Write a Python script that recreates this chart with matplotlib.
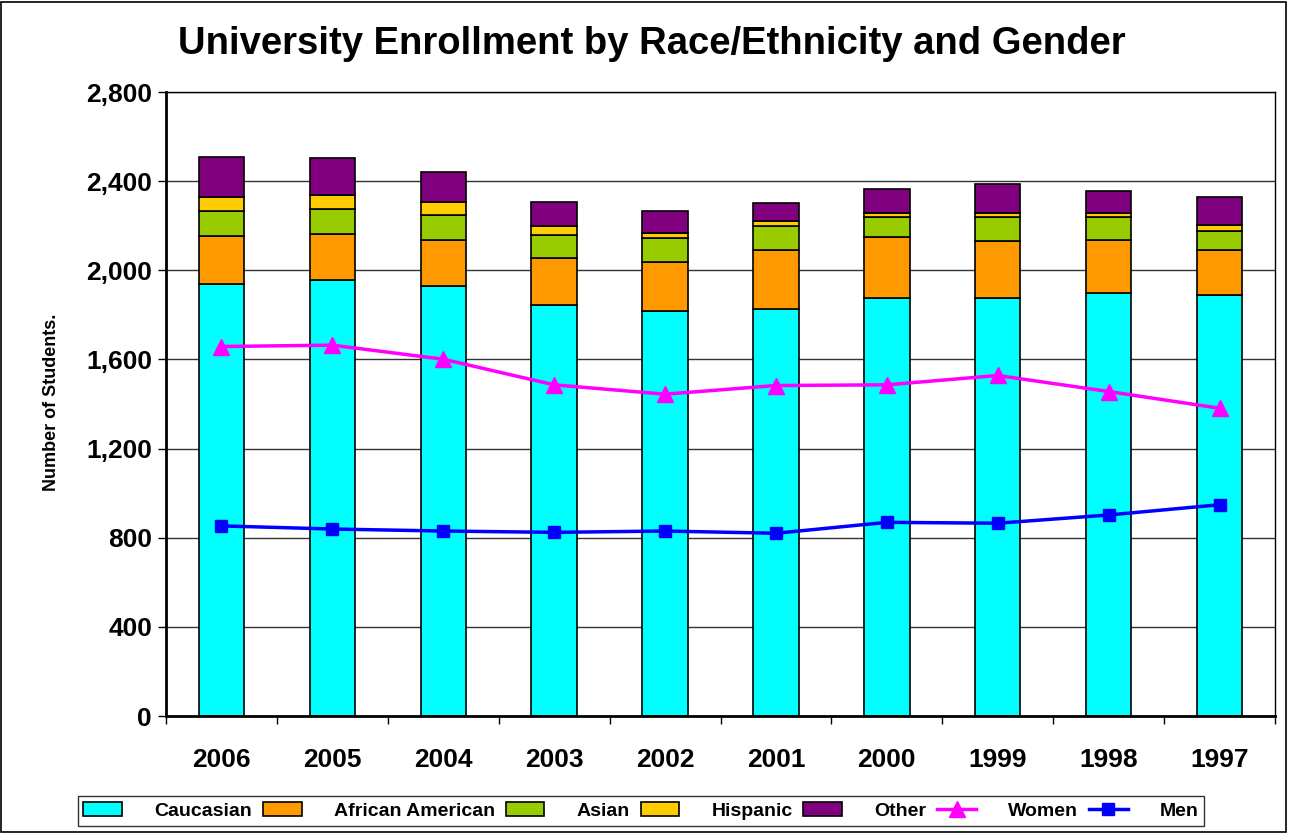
import matplotlib
matplotlib.use("Agg")
import matplotlib.pyplot as plt
import numpy as np
from matplotlib.patches import Rectangle

plt.rcParams['font.family'] = ['Liberation Sans', 'DejaVu Sans']

years = ['2006', '2005', '2004', '2003', '2002', '2001', '2000', '1999', '1998', '1997']
caucasian = [1940, 1957, 1930, 1842, 1818, 1826, 1875, 1875, 1896, 1891]
african_american = [213, 208, 208, 212, 218, 266, 274, 257, 242, 202]
asian = [114, 112, 111, 105, 108, 107, 89, 106, 100, 84]
hispanic = [61, 63, 57, 39, 23, 20, 21, 21, 21, 28]
other = [180, 162, 134, 108, 100, 82, 104, 126, 98, 125]
women = [1658, 1664, 1601, 1486, 1444, 1483, 1486, 1528, 1456, 1381]
men = [853, 839, 830, 824, 830, 820, 869, 865, 902, 948]

W, H = 1289, 833
fig = plt.figure(figsize=(W / 100, H / 100), dpi=100)
ax = fig.add_axes([166 / W, 1 - 716 / H, (1275 - 166) / W, (716 - 92) / H])

x = np.arange(len(years))
stack = [(caucasian, '#00FFFF', 'Caucasian'),
         (african_american, '#FF9900', 'African American'),
         (asian, '#99CC00', 'Asian'),
         (hispanic, '#FFCC00', 'Hispanic'),
         (other, '#800080', 'Other')]
bottom = np.zeros(len(years))
handles = []
for vals, col, lab in stack:
    b = ax.bar(x, vals, 0.41, bottom=bottom, color=col, edgecolor='black',
               linewidth=1.2, label=lab, zorder=2)
    handles.append(b)
    bottom += np.array(vals)

lw, = ax.plot(x, women, color='#FF00FF', lw=2.5, marker='^', ms=11, label='Women', zorder=3)
lm, = ax.plot(x, men, color='#0000FF', lw=2.5, marker='s', ms=9, label='Men', zorder=3)
handles += [lw, lm]

ax.set_xlim(-0.5, len(years) - 0.5)
ax.set_ylim(0, 2800)
ax.set_yticks(range(0, 2801, 400))
ax.set_yticklabels([f'{v:,}' for v in range(0, 2801, 400)], fontsize=19, fontweight='bold')
ax.set_xticks(x)
ax.set_xticklabels(years, fontsize=19, fontweight='bold')
ax.set_xticks(np.arange(-0.5, len(years)), minor=True)
ax.tick_params(axis='x', which='major', length=0, pad=23)
ax.tick_params(axis='x', which='minor', length=6, direction='out', width=1)
ax.tick_params(axis='y', length=6, direction='out', width=1, pad=4)
ax.grid(axis='y', color='#333333', lw=1, zorder=0)
ax.set_axisbelow(True)
for s in ax.spines.values():
    s.set_color('black')
    s.set_linewidth(1)
ax.spines['left'].set_linewidth(2)
ax.spines['bottom'].set_linewidth(2)

fig.text(52 / W, 1 - 402 / H, 'Number of Students.', rotation=90, ha='center', va='center',
         fontsize=13, fontweight='bold')

fig.text(652 / W, 1 - 44 / H, 'University Enrollment by Race/Ethnicity and Gender',
         ha='center', va='center', fontsize=27.5, fontweight='bold')

leg = fig.legend(handles, [h.get_label() for h in handles], loc='center', ncol=7,
                 bbox_to_anchor=(641 / W, 1 - 811 / H), fontsize=14,
                 frameon=True, fancybox=False, edgecolor='black',
                 handlelength=2.0, handletextpad=1.65, columnspacing=0.55,
                 borderpad=0.3)
leg.get_frame().set_linewidth(1)
for t in leg.get_texts():
    t.set_fontweight('bold')

fig.patches.append(Rectangle((0.001, 0.001), 0.997, 0.997, transform=fig.transFigure,
                             fill=False, edgecolor='black', lw=1.2))

fig.savefig('out.png', dpi=100)
